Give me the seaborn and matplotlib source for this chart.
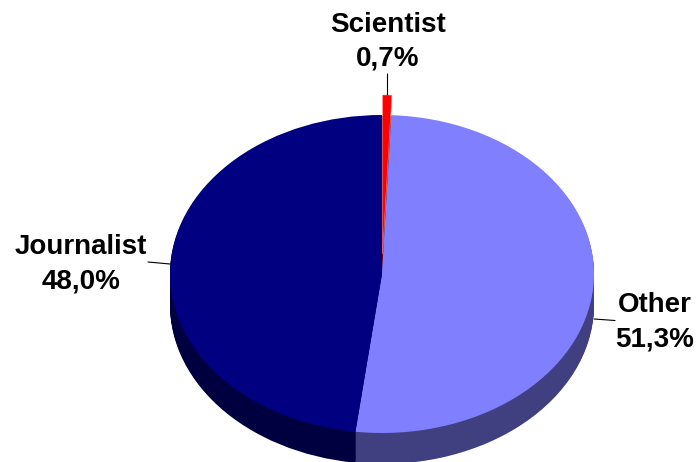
import matplotlib
matplotlib.use("Agg")
import matplotlib.pyplot as plt
import seaborn as sns

# values
categories = ["Scientist", "Other", "Journalist"]
shares = [0.7, 51.3, 48.0]
share_labels = ["0,7%", "51,3%", "48,0%"]
colors_top = ["#FF0000", "#8080FF", "#000080"]
colors_side = ["#800000", "#404080", "#000040"]

W, H = 698, 462
CX, CY = 382, 274      # centre of the top ellipse, in pixels
RX, RY = 212, 159      # its radii
DEPTH = 31             # height of the side wall
LIFT = 20              # how far the small slice is pulled out

sns.set_theme(style="white")
plt.rcParams["font.family"] = ["Liberation Sans", "DejaVu Sans"]


def px(x, y):
    # pixel position to axes data units (radius 1 pie squashed by the limits)
    return (x - CX) / RX, (CY - y) / RY


fig = plt.figure(figsize=(W / 100, H / 100), dpi=100)
ax = fig.add_axes([0, 0, 1, 1])

explode = [LIFT / RY, 0, 0]

# side wall: the same pie stacked from the bottom up
for d in range(DEPTH, 0, -1):
    ax.pie(shares, colors=colors_side, center=(0, -d / RY),
           startangle=90, counterclock=False,
           wedgeprops={"linewidth": 0})

# top face
wedges, _ = ax.pie(shares, colors=colors_top, explode=explode,
                   startangle=90, counterclock=False,
                   wedgeprops={"linewidth": 0})
wedges[0].set(edgecolor="#FF9090", linewidth=0.4)

ax.set_aspect("auto")
ax.set_xlim(px(0, 0)[0], px(W, 0)[0])
ax.set_ylim(px(0, H)[1], px(0, 0)[1])

# labels and their leader lines
label_pos = [(388, 41.5), (655, 322.5), (81, 264.5)]
leaders = [((387.5, 74), (387.5, 95)),
           ((615, 320.5), (594, 319)),
           ((148, 262), (170, 264))]

for name, pct, pos, (a, b) in zip(categories, share_labels, label_pos, leaders):
    ax.text(*px(*pos), f"{name}\n{pct}", ha="center", va="center",
            fontsize=20, fontweight="bold", color="black", linespacing=1.4)
    ax.annotate("", xy=px(*b), xytext=px(*a),
                arrowprops=dict(arrowstyle="-", color="black", lw=0.8,
                                shrinkA=0, shrinkB=0))

fig.savefig("out.png", dpi=100)
